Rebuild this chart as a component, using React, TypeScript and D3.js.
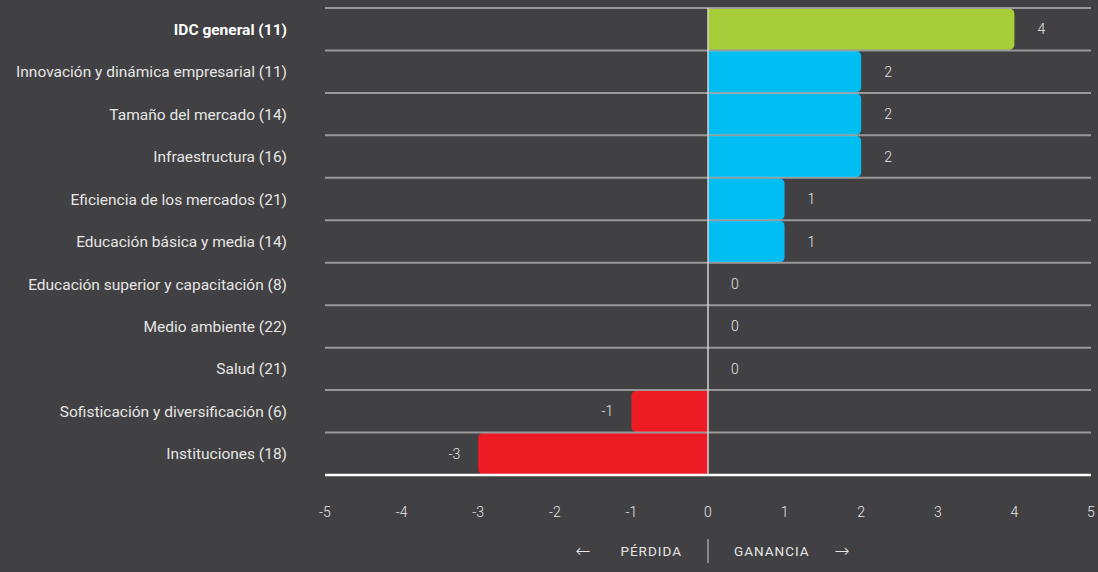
import React, { useEffect, useRef } from 'react';
import * as d3 from 'd3';

const categories = [
  'IDC general (11)',
  'Innovación y dinámica empresarial (11)',
  'Tamaño del mercado (14)',
  'Infraestructura (16)',
  'Eficiencia de los mercados (21)',
  'Educación básica y media (14)',
  'Educación superior y capacitación (8)',
  'Medio ambiente (22)',
  'Salud (21)',
  'Sofisticación y diversificación (6)',
  'Instituciones (18)',
];
const values = [4, 2, 2, 2, 1, 1, 0, 0, 0, -1, -3];
const xTicks = [-5, -4, -3, -2, -1, 0, 1, 2, 3, 4, 5];

const BG = '#414042';
const TEXT = '#e6e6e6';

export default function App() {
  const svgRef = useRef<SVGSVGElement>(null);

  useEffect(() => {
    document.body.style.margin = '0';
    document.body.style.background = BG;

    const svg = d3.select(svgRef.current);
    svg.selectAll('*').remove();

    const width = 1098;
    const height = 572;
    const left = 325;
    const right = 1091;
    const top = 8;
    const bottom = 475;

    svg.attr('width', width).attr('height', height);
    svg.append('rect').attr('width', width).attr('height', height).attr('fill', BG);

    const x = d3.scaleLinear().domain([-5, 5]).range([left, right]);
    const y = d3.scaleBand<string>().domain(categories).range([top, bottom]).paddingInner(0.03).paddingOuter(0.015);

    const font = 'Roboto, "Noto Sans", sans-serif';

    // barras
    const r = 5;
    const barPath = (v: number, i: number) => {
      const y0 = y(categories[i])!;
      const h = y.bandwidth();
      const x0 = x(0);
      const x1 = x(v);
      if (v === 0) return '';
      const s = v > 0 ? 1 : -1;
      const p = d3.path();
      p.moveTo(x0, y0);
      p.lineTo(x1 - s * r, y0);
      p.arcTo(x1, y0, x1, y0 + r, r);
      p.lineTo(x1, y0 + h - r);
      p.arcTo(x1, y0 + h, x1 - s * r, y0 + h, r);
      p.lineTo(x0, y0 + h);
      p.closePath();
      return p.toString();
    };

    svg.append('g')
      .selectAll('path')
      .data(values)
      .enter()
      .append('path')
      .attr('d', (d, i) => barPath(d, i))
      .attr('fill', (d, i) => (i === 0 ? '#a6ce39' : d > 0 ? '#00bdf2' : '#ed1c24'));

    // líneas de la cuadrícula
    const step = (bottom - top) / categories.length;
    const gridYs = d3.range(categories.length).map(i => top + i * step);
    svg.append('g')
      .selectAll('line')
      .data(gridYs)
      .enter()
      .append('line')
      .attr('x1', left)
      .attr('x2', right)
      .attr('y1', d => d)
      .attr('y2', d => d)
      .attr('stroke', 'rgba(200,200,200,0.65)')
      .attr('stroke-width', 2);

    svg.append('line')
      .attr('x1', left)
      .attr('x2', right)
      .attr('y1', bottom)
      .attr('y2', bottom)
      .attr('stroke', '#ffffff')
      .attr('stroke-width', 2.5);

    // línea del cero
    svg.append('line')
      .attr('x1', x(0))
      .attr('x2', x(0))
      .attr('y1', top)
      .attr('y2', bottom)
      .attr('stroke', 'rgba(220,220,220,0.7)')
      .attr('stroke-width', 2);

    // etiquetas de categorías
    svg.append('g')
      .selectAll('text')
      .data(categories)
      .enter()
      .append('text')
      .attr('x', 287)
      .attr('y', d => y(d)! + y.bandwidth() / 2)
      .attr('dy', '0.36em')
      .attr('text-anchor', 'end')
      .attr('font-family', font)
      .attr('font-size', 15.5)
      .attr('font-weight', (d, i) => (i === 0 ? 700 : 400))
      .attr('fill', (d, i) => (i === 0 ? '#ffffff' : TEXT))
      .text(d => d);

    // valores
    svg.append('g')
      .selectAll('text')
      .data(values)
      .enter()
      .append('text')
      .attr('x', d => (d >= 0 ? x(d) + 23 : x(d) - 18))
      .attr('y', (d, i) => y(categories[i])! + y.bandwidth() / 2)
      .attr('dy', '0.36em')
      .attr('text-anchor', d => (d >= 0 ? 'start' : 'end'))
      .attr('font-family', font)
      .attr('font-size', 14)
      .attr('font-weight', 300)
      .attr('fill', TEXT)
      .text(d => String(d));

    // eje x
    svg.append('g')
      .selectAll('text')
      .data(xTicks)
      .enter()
      .append('text')
      .attr('x', d => x(d))
      .attr('y', 512)
      .attr('dy', '0.36em')
      .attr('text-anchor', 'middle')
      .attr('font-family', font)
      .attr('font-size', 14)
      .attr('font-weight', 300)
      .attr('fill', TEXT)
      .text(d => String(d));

    // leyenda
    const leg = svg.append('g').attr('font-family', font).attr('font-size', 13.5).attr('fill', TEXT).attr('letter-spacing', 1);
    leg.append('text').attr('x', x(0) - 26).attr('y', 551).attr('dy', '0.36em').attr('text-anchor', 'end').text('PÉRDIDA');
    leg.append('text').attr('x', x(0) + 26).attr('y', 551).attr('dy', '0.36em').text('GANANCIA');
    const arrows = svg.append('g').attr('font-family', '"DejaVu Sans", sans-serif').attr('font-size', 18).attr('font-weight', 300).attr('fill', TEXT);
    arrows.append('text').attr('x', x(0) - 125).attr('y', 551).attr('dy', '0.36em').attr('text-anchor', 'middle').text('←');
    arrows.append('text').attr('x', x(0) + 134).attr('y', 551).attr('dy', '0.36em').attr('text-anchor', 'middle').text('→');
    svg.append('line')
      .attr('x1', x(0))
      .attr('x2', x(0))
      .attr('y1', 539)
      .attr('y2', 563)
      .attr('stroke', '#cfcfcf')
      .attr('stroke-width', 1);
  }, []);

  return (
    <div style={{ position: 'absolute', left: 0, top: 0, width: 1098, height: 572, background: BG }}>
      <svg ref={svgRef} style={{ display: 'block' }}></svg>
    </div>
  );
}
